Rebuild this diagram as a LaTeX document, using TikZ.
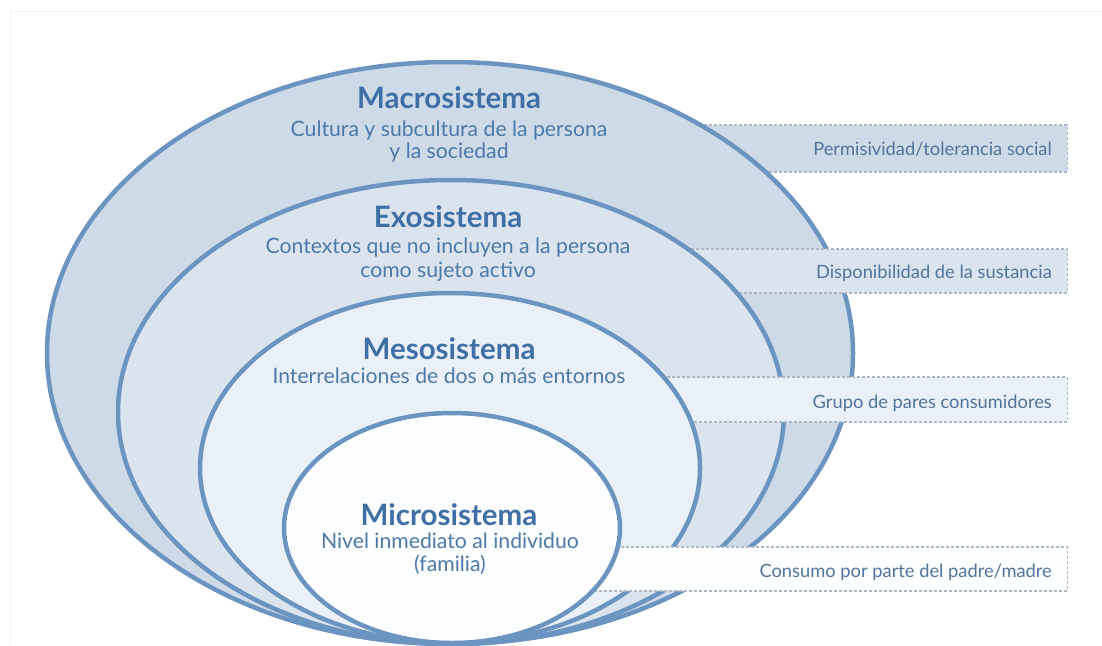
\documentclass[tikz,border=0pt]{standalone}
\usepackage{fontspec}
\setmainfont{Lato}
\usetikzlibrary{shapes.geometric}
\definecolor{ringcol}{HTML}{6C94C1}
\definecolor{macrofill}{HTML}{CDDAE8}
\definecolor{exofill}{HTML}{DAE4EF}
\definecolor{mesofill}{HTML}{EAF0F7}
\definecolor{microfill}{HTML}{FDFEFF}
\definecolor{titlecol}{HTML}{3F6FA5}
\definecolor{bodycol}{HTML}{4D79A9}
\definecolor{boxtext}{HTML}{51749C}
\definecolor{dashcol}{HTML}{AEB7C2}
\definecolor{framecol}{HTML}{F0F1F2}
\begin{document}
\begin{tikzpicture}[x=1pt,y=-1pt,
  ring/.style={ellipse, draw=ringcol, line width=4.5pt, inner sep=0pt, outer sep=0pt},
  lbox/.style={rectangle, draw=dashcol, line width=1.1pt, dash pattern=on 3pt off 2pt, inner sep=0pt, anchor=east},
  ttl/.style={anchor=base, text=titlecol, font=\fontsize{29.5}{31}\selectfont\bfseries, inner sep=0pt},
  bdy/.style={anchor=base, text=bodycol, font=\fontsize{21.2}{23}\selectfont, inner sep=0pt},
  btx/.style={anchor=base east, text=boxtext, font=\fontsize{18.3}{20}\selectfont, inner sep=0pt}
]
\useasboundingbox (0,0) rectangle (1102,645);
\fill[white] (0,0) rectangle (1102,645);
\draw[framecol, line width=1pt] (10,645) -- (10,11) -- (1102,11);

% level 1
\node[lbox, fill=macrofill, minimum width=468pt, minimum height=47pt] (b1) at (1068,148.5) {};
\node[ring, fill=macrofill, minimum width=806pt, minimum height=582pt] (macro) at (450,353) {};
% level 2
\node[lbox, fill=exofill, minimum width=468pt, minimum height=44pt] (b2) at (1068,271) {};
\node[ring, fill=exofill, minimum width=666pt, minimum height=464pt] (exo) at (451,412) {};
% level 3
\node[lbox, fill=mesofill, minimum width=508pt, minimum height=45pt] (b3) at (1068,399.5) {};
\node[ring, fill=mesofill, minimum width=500pt, minimum height=350pt] (meso) at (450,468) {};
% level 4
\node[lbox, fill=microfill, minimum width=548pt, minimum height=44pt] (b4) at (1068,569) {};
\node[ring, fill=microfill, minimum width=336pt, minimum height=230pt] (micro) at (452,528) {};

% texts
\node[ttl] (t1) at (449,108) {Macrosistema};
\node[bdy] (t1a) at (449,136) {Cultura y subcultura de la persona};
\node[bdy] (t1b) at (449,158) {y la sociedad};

\node[ttl] (t2) at (448,227) {Exosistema};
\node[bdy] (t2a) at (448,253) {Contextos que no incluyen a la persona};
\node[bdy] (t2b) at (448,277) {como sujeto activo};

\node[ttl] (t3) at (449,359) {Mesosistema};
\node[bdy] (t3a) at (449,383) {Interrelaciones de dos o más entornos};

\node[ttl] (t4) at (449,525) {Microsistema};
\node[bdy] (t4a) at (450,548) {Nivel inmediato al individuo};
\node[bdy] (t4b) at (450,571) {(familia)};

\node[btx] (l1) at (1052,155) {Permisividad/tolerancia social};
\node[btx] (l2) at (1052,278) {Disponibilidad de la sustancia};
\node[btx] (l3) at (1052,408) {Grupo de pares consumidores};
\node[btx] (l4) at (1052,577) {Consumo por parte del padre/madre};
\end{tikzpicture}
\end{document}
